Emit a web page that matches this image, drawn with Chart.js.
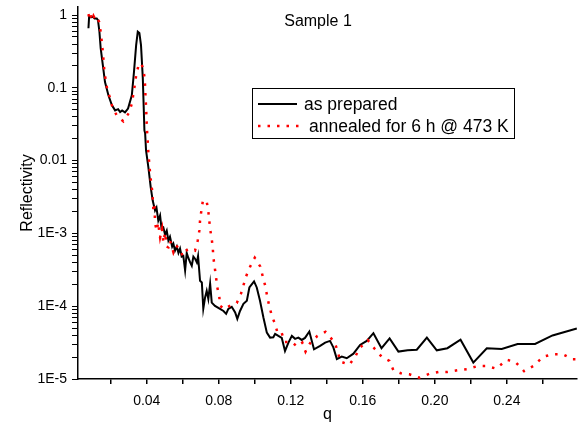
<!DOCTYPE html>
<html>
<head>
<meta charset="utf-8">
<script src="https://cdn.jsdelivr.net/npm/chart.js@4.4.1/dist/chart.umd.min.js"></script>
<style>
  html, body { margin: 0; padding: 0; background: #fff; }
  #wrap { width: 587px; height: 425px; }
</style>
</head>
<body>
<div id="wrap"><canvas id="refl-chart" width="587" height="425"></canvas></div>
<script>
let titleText = 'Sample 1';
let labelPrepared = 'as prepared';
let labelAnnealed = 'annealed for 6 h @ 473 K';

let qPrepared = [0.0076,0.0080,0.0090,0.0100,0.0110,0.0122,0.0129,0.0137,0.0144,0.0156,
  0.0168,0.0187,0.0206,0.0224,0.0241,0.0252,0.0263,0.0279,0.0296,0.0317,
  0.0329,0.0341,0.0350,0.0359,0.0368,0.0378,0.0387,0.0391,0.0396,0.0409,
  0.0422,0.0433,0.0446,0.0454,0.0464,0.0474,0.0482,0.0492,0.0502,0.0511,
  0.0520,0.0529,0.0541,0.0548,0.0557,0.0567,0.0576,0.0585,0.0594,0.0603,
  0.0613,0.0622,0.0631,0.0641,0.0650,0.0659,0.0668,0.0678,0.0685,0.0696,
  0.0706,0.0714,0.0724,0.0733,0.0742,0.0752,0.0761,0.0779,0.0807,0.0826,
  0.0841,0.0853,0.0872,0.0891,0.0903,0.0918,0.0937,0.0956,0.0970,0.0996,
  0.1011,0.1029,0.1048,0.1067,0.1085,0.1103,0.1113,0.1131,0.1150,0.1168,
  0.1187,0.1206,0.1224,0.1242,0.1261,0.1279,0.1303,0.1329,0.1363,0.1391,
  0.1418,0.1437,0.1456,0.1483,0.1511,0.1548,0.1585,0.1622,0.1659,0.1704,
  0.1749,0.1798,0.1849,0.1900,0.1956,0.2011,0.2070,0.2143,0.2214,0.2289,
  0.2372,0.2460,0.2557,0.2654,0.2789];
let rPrepared = [0.66,0.97,0.93,0.95,0.90,0.90,0.85,0.59,0.35,0.205,
  0.12,0.079,0.058,0.049,0.051,0.0466,0.049,0.046,0.052,0.079,
  0.166,0.386,0.59,0.565,0.386,0.136,0.026,0.0237,0.0138,0.0081,
  0.0043,0.00283,0.00206,0.00226,0.0015,0.00176,0.00116,0.00121,0.00096,0.00109,
  0.0008,0.0009,0.00066,0.00072,0.00058,0.00066,0.00054,0.00062,0.00048,0.00049,
  0.00031,0.00054,0.00046,0.0004,0.00036,0.00048,0.00045,0.0004,0.00049,0.000224,
  0.000212,0.000092,0.000132,0.000163,0.000126,0.000204,0.000112,0.000101,0.000092,0.000086,
  0.0000786,0.000092,0.000098,0.0000819,0.000067,0.000086,0.000108,0.000119,0.000181,0.000219,
  0.000181,0.000119,0.0000699,0.0000434,0.000037,0.0000375,0.0000417,0.0000391,0.0000367,0.0000243,
  0.0000316,0.0000391,0.0000356,0.000037,0.0000344,0.0000367,0.0000449,0.0000256,0.0000285,0.0000316,
  0.0000334,0.000027,0.0000188,0.0000203,0.0000193,0.0000223,0.0000294,0.0000334,0.0000426,0.0000265,
  0.0000361,0.0000238,0.0000248,0.0000253,0.000037,0.0000248,0.0000265,0.0000347,0.0000168,0.0000265,
  0.0000259,0.0000303,0.0000303,0.0000397,0.0000493];

let qAnnealed = [0.0076,0.0082,0.0088,0.0096,0.0104,0.0113,0.0124,0.0135,0.0144,0.0156,
  0.0164,0.0172,0.0181,0.0194,0.0209,0.0235,0.0270,0.0302,0.0317,0.0326,
  0.0335,0.0342,0.0356,0.0368,0.0381,0.0387,0.0391,0.0393,0.0396,0.0398,
  0.0400,0.0403,0.0406,0.0409,0.0414,0.0418,0.0424,0.0431,0.0437,0.0443,
  0.0446,0.0456,0.0463,0.0474,0.0485,0.0492,0.0502,0.0510,0.0520,0.0529,
  0.0548,0.0563,0.0585,0.0599,0.0613,0.0641,0.0668,0.0683,0.0692,0.0696,
  0.0702,0.0711,0.0731,0.0741,0.0752,0.0761,0.0767,0.0770,0.0785,0.0792,
  0.0803,0.0807,0.0832,0.0868,0.0900,0.0924,0.0952,0.0974,0.1000,0.1031,
  0.1044,0.1058,0.1068,0.1079,0.1094,0.1113,0.1128,0.1150,0.1166,0.1206,
  0.1235,0.1264,0.1282,0.1307,0.1348,0.1393,0.1442,0.1461,0.1474,0.1525,
  0.1557,0.1585,0.1628,0.1668,0.1706,0.1748,0.1770,0.1811,0.1859,0.1914,
  0.1970,0.2020,0.2070,0.2129,0.2178,0.2239,0.2285,0.2341,0.2400,0.2446,
  0.2496,0.2548,0.2603,0.2659,0.2711,0.2767,0.2790];
let rAnnealed = [1.03,0.88,1.0,0.85,0.97,0.88,0.94,0.81,0.59,0.312,
  0.175,0.127,0.093,0.075,0.0546,0.041,0.0347,0.0457,0.0608,0.0834,
  0.115,0.154,0.211,0.218,0.183,0.141,0.105,0.075,0.0558,0.042,
  0.0305,0.0222,0.0173,0.0126,0.0091,0.00695,0.00506,0.00368,0.00206,0.00241,
  0.00136,0.00109,0.00141,0.00088,0.00116,0.000754,0.00103,0.00066,0.000644,0.0008,
  0.00055,0.00068,0.00061,0.00049,0.00058,0.00061,0.00058,0.0008,0.00109,0.0015,
  0.00195,0.00274,0.00289,0.00213,0.00115,0.00084,0.00061,0.00047,0.000248,0.000181,
  0.000135,0.000101,0.000091,0.000104,0.000111,0.00015,0.000258,0.000349,0.000464,0.000349,
  0.000258,0.000191,0.000141,0.000104,0.000075,0.0000566,0.0000417,0.0000426,0.0000323,0.0000322,
  0.0000279,0.0000316,0.0000238,0.000031,0.0000391,0.0000444,0.0000322,0.0000243,0.0000174,0.0000157,
  0.0000201,0.000027,0.0000341,0.0000256,0.0000201,0.0000177,0.0000132,0.000012,0.0000116,0.0000104,
  0.0000118,0.0000125,0.0000125,0.0000132,0.0000136,0.0000151,0.0000151,0.0000139,0.0000183,0.0000173,
  0.0000128,0.0000151,0.0000203,0.0000219,0.0000219,0.0000187,0.0000187];

let xTicks = [0.02, 0.04, 0.06, 0.08, 0.10, 0.12, 0.14, 0.16, 0.18, 0.20, 0.22, 0.24, 0.26];
let xLabelled = [0.04, 0.08, 0.12, 0.16, 0.20, 0.24];
let yDecades = [-5, -4, -3, -2, -1, 0];

const FONT = '"Liberation Sans", Arial, sans-serif';

function toPoints(qs, rs) {
  return qs.map((q, i) => ({x: q, y: rs[i]}));
}

function yLabel(v) {
  let e = Math.round(Math.log10(v));
  if (Math.abs(Math.log10(v) - e) > 1e-6) return '';
  if (e === 0) return '1';
  if (e >= -2) return String(Math.pow(10, e).toFixed(-e));
  return '1E' + e;
}

// title inside the plot + boxed legend, like the origin-style figure
const overlay = {
  id: 'overlay',
  afterDraw(chart) {
    const c = chart.ctx;
    c.save();
    c.fillStyle = '#000';
    c.textBaseline = 'middle';
    c.textAlign = 'center';
    c.font = '16px ' + FONT;
    c.fillText(titleText, 318, 22);

    c.strokeStyle = '#000';
    c.lineWidth = 1;
    c.strokeRect(252.5, 88.5, 262, 50);

    const textX = [304, 309];
    c.font = '17.5px ' + FONT;
    c.textAlign = 'left';
    chart.data.datasets.forEach((ds, i) => {
      const y = 104 + i * 22;
      c.beginPath();
      c.strokeStyle = ds.borderColor;
      c.lineWidth = ds.borderWidth;
      c.setLineDash(ds.borderDash || []);
      c.moveTo(258, y);
      c.lineTo(i ? 300 : 297, y);
      c.stroke();
      c.setLineDash([]);
      c.fillStyle = '#000';
      c.fillText(ds.label, textX[i], y + 1);
    });
    c.restore();
  }
};

document.addEventListener('DOMContentLoaded', function() {
  var ctx = document.getElementById('refl-chart').getContext('2d');
  var myChart = new Chart(ctx, {
    type: 'line',
    data: {
      datasets: [
        {
          label: labelPrepared,
          data: toPoints(qPrepared, rPrepared),
          borderColor: '#000000',
          borderWidth: 2,
          pointRadius: 0,
          fill: false,
          tension: 0,
          order: 1
        },
        {
          label: labelAnnealed,
          data: toPoints(qAnnealed, rAnnealed),
          borderColor: '#ff0000',
          borderWidth: 2.5,
          borderDash: [2.5, 7],
          pointRadius: 0,
          fill: false,
          tension: 0,
          order: 0
        }
      ]
    },
    options: {
      responsive: false,
      animation: false,
      layout: { padding: { left: 0, top: 7, right: 10, bottom: 0 } },
      plugins: {
        legend: { display: false },
        title: { display: false },
        tooltip: { enabled: false }
      },
      scales: {
        x: {
          type: 'linear',
          min: 0.0018,
          max: 0.279,
          border: { color: '#000', width: 1.5 },
          grid: { drawOnChartArea: false, color: '#000', tickLength: 5, lineWidth: 1.5 },
          afterBuildTicks: scale => { scale.ticks = xTicks.map(v => ({ value: v })); },
          afterFit: scale => {
            scale.height = 46;
            scale.paddingLeft = 0;
            scale.paddingRight = 0;
          },
          ticks: {
            color: '#000',
            font: { family: FONT, size: 14 },
            padding: 9,
            autoSkip: false,
            maxRotation: 0,
            callback: v => xLabelled.some(t => Math.abs(t - v) < 1e-9) ? v.toFixed(2) : ''
          },
          title: {
            display: true,
            text: 'q',
            color: '#000',
            font: { family: FONT, size: 16 },
            padding: { top: 0, bottom: 1 }
          }
        },
        y: {
          type: 'logarithmic',
          min: 1e-5,
          max: 1.29,
          border: { color: '#000', width: 1.5 },
          grid: { drawOnChartArea: false, color: '#000', tickLength: 6, lineWidth: 1 },
          afterBuildTicks: scale => {
            let t = [];
            yDecades.forEach(e => {
              for (let m = 1; m <= 9; m++) {
                let v = m * Math.pow(10, e);
                if (v <= 1.29) t.push({ value: v });
              }
            });
            scale.ticks = t;
          },
          afterFit: scale => {
            scale.width = 78;
            scale.paddingTop = 0;
            scale.paddingBottom = 0;
          },
          ticks: {
            color: '#000',
            font: { family: FONT, size: 14 },
            padding: 5,
            autoSkip: false,
            callback: v => yLabel(v)
          },
          title: {
            display: true,
            text: 'Reflectivity',
            color: '#000',
            font: { family: FONT, size: 16 },
            padding: { top: 18, bottom: 0 }
          }
        }
      }
    },
    plugins: [overlay]
  });
});
</script>
</body>
</html>
